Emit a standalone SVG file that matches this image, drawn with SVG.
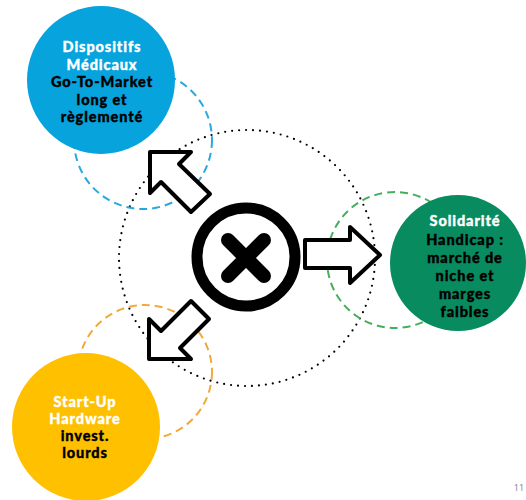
<svg xmlns="http://www.w3.org/2000/svg" width="526" height="500" viewBox="0 0 526 500">
<style>
.dash{fill:none;stroke-width:2;stroke-dasharray:8 5}
.arrow{fill:#fff;stroke:#000;stroke-width:4;stroke-linejoin:round}
.t{font-family:Lato,"Open Sans","DejaVu Sans",sans-serif;font-weight:900;font-size:14.5px;letter-spacing:0.9px;text-anchor:middle;stroke-width:0.35px}
.w{fill:#fff;stroke:#fff}
.k{fill:#000;stroke:#000}
</style>
<rect width="526" height="500" fill="#fff"/>
<g id="connectors">
<circle cx="247" cy="258" r="128" fill="none" stroke="#000" stroke-width="2.2" stroke-linecap="round" stroke-dasharray="0 7"/>
<circle class="dash" cx="143" cy="140" r="69" stroke="#29A8DF"/>
<circle class="dash" cx="395" cy="260" r="68" stroke="#45AE5C"/>
<circle class="dash" cx="145" cy="372" r="67" stroke="#F2A93B"/>
<polygon id="arrow-ul" class="arrow" points="150,152 191,152 179,164 210,194 191,212 161,182 150,193"/>
<polygon id="arrow-ll" class="arrow" points="191,301 209,319 180,348 191,359 149,359 149,319 161,331"/>
<polygon id="arrow-r" class="arrow" points="305,240 350,240 350,227 380,255 350,283 350,268 305,268"/>
</g>
<g id="center">
<circle cx="246" cy="257" r="49" fill="#fff" stroke="#000" stroke-width="11"/>
<path d="M228 240 L264 276 M264 240 L228 276" stroke="#000" stroke-width="14" stroke-linecap="round"/>
</g>
<g id="node-dm">
<circle cx="101" cy="80" r="74" fill="#06A3DD"/>
<text class="t w" x="102" y="52">Dispositifs</text>
<text class="t w" x="102" y="69.5">Médicaux</text>
<text class="t k" x="102" y="87">Go-To-Market</text>
<text class="t k" x="102" y="104.5">long et</text>
<text class="t k" x="102" y="122">règlementé</text>
</g>
<g id="node-sol">
<circle cx="458" cy="263" r="68" fill="#078B5F"/>
<text class="t w" x="465" y="226">Solidarité</text>
<text class="t k" x="465" y="244.5">Handicap :</text>
<text class="t k" x="465" y="263">marché de</text>
<text class="t k" x="465" y="281">niche et</text>
<text class="t k" x="465" y="299">marges</text>
<text class="t k" x="465" y="316.5">faibles</text>
</g>
<g id="node-su">
<circle cx="86" cy="427" r="74" fill="#FFC000"/>
<text class="t w" x="85" y="407">Start-Up</text>
<text class="t w" x="85" y="424">Hardware</text>
<text class="t k" x="85" y="441">invest.</text>
<text class="t k" x="85" y="458">lourds</text>
</g>
<text x="519" y="491" font-family="Open Sans, sans-serif" font-size="9" fill="#7d7d8c" text-anchor="middle">11</text>
</svg>
